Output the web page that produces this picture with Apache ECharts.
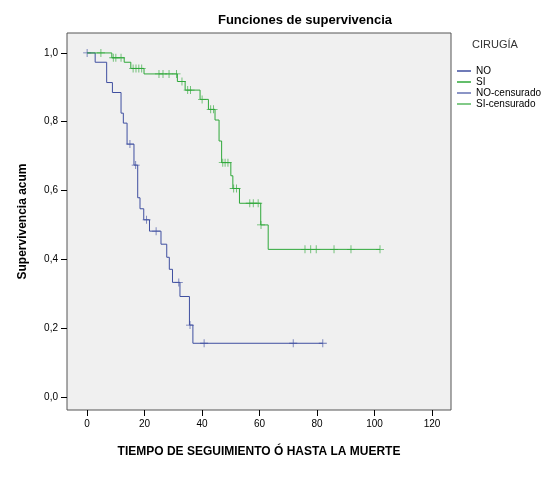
<!DOCTYPE html><html><head><meta charset="utf-8"><script src="https://cdn.jsdelivr.net/npm/echarts@6/dist/echarts.min.js"></script></head><body style="margin:0;background:#fff"><div id="c" style="width:548px;height:477px"></div><script>
const noSteps=[[0,1],[2.8,0.973],[6.8,0.914],[8.8,0.885],[11.8,0.825],[12.6,0.796],[13.9,0.735],[16.3,0.674],[17.6,0.579],[18.4,0.547],[19.7,0.515],[21.7,0.482],[25.7,0.444],[27.7,0.406],[28.6,0.371],[29.7,0.333],[32.3,0.292],[35.6,0.209],[36.8,0.156],[82,0.156]];
const noCens=[[0,1],[14.9,0.735],[16.9,0.674],[20.7,0.515],[24,0.482],[31.9,0.333],[35.8,0.209],[40.7,0.156],[71.7,0.156],[82,0.156]];
const siSteps=[[0,1],[8.6,0.986],[12.9,0.973],[15.2,0.955],[19.8,0.939],[31.4,0.917],[34.1,0.892],[39.3,0.865],[42.2,0.836],[44.5,0.805],[45.9,0.744],[46.8,0.681],[50,0.643],[50.7,0.606],[53,0.563],[60.4,0.5],[63,0.429],[101.9,0.429]];
const siCens=[[4.8,1],[9.1,0.986],[10,0.986],[11.8,0.986],[16,0.955],[17,0.955],[18,0.955],[19,0.955],[25,0.939],[26.4,0.939],[28.5,0.939],[31.1,0.939],[33,0.917],[35,0.892],[36,0.892],[40,0.865],[43,0.836],[44,0.836],[47.2,0.681],[48,0.681],[49,0.681],[51,0.606],[52,0.606],[56.6,0.563],[57.8,0.563],[59.5,0.563],[60.5,0.5],[75.8,0.429],[77.8,0.429],[79.7,0.429],[85.9,0.429],[91.8,0.429],[101.9,0.429]];
const xTicks=[0,20,40,60,80,100,120];
const yTicks=[0,0.2,0.4,0.6,0.8,1.0];
const blue='#3f4fa0',green='#2fa83a';
const plus='path://M0,4.5h10v1h-10z M4.5,0h1v10h-1z';
const lineIcon='path://M0,0h14v1.5h-14z';
const ch=echarts.init(document.getElementById('c'));
ch.setOption({
 animation:false,
 title:{text:'Funciones de supervivencia',left:300,top:9,textAlign:'center',textStyle:{fontFamily:'Liberation Sans',fontSize:13,fontWeight:'bold',color:'#000'}},
 graphic:[{type:'text',left:472,top:39,style:{text:'CIRUGÍA',font:'11px Liberation Sans',fill:'#333'}}],
 legend:{orient:'vertical',left:452,top:61,itemGap:1,itemWidth:14,itemHeight:8,textStyle:{fontFamily:'Liberation Sans',fontSize:10,color:'#000'},
  data:[{name:'NO',icon:lineIcon,itemStyle:{color:blue}},{name:'SI',icon:lineIcon,itemStyle:{color:green}},{name:'NO-censurado',icon:lineIcon,itemStyle:{color:blue}},{name:'SI-censurado',icon:lineIcon,itemStyle:{color:green}}]},
 grid:{left:67,right:97,top:33,bottom:67,backgroundColor:'#f0f0f0',show:true,borderColor:'#555',borderWidth:1},
 xAxis:{type:'value',min:-7,max:126.6,name:'TIEMPO DE SEGUIMIENTO Ó HASTA LA MUERTE',nameLocation:'middle',nameGap:36,
  nameTextStyle:{fontFamily:'Liberation Sans',fontSize:12,fontWeight:'bold',color:'#000'},
  splitLine:{show:false},axisLine:{show:false,onZero:false},
  axisTick:{show:true,customValues:xTicks,length:6,lineStyle:{color:'#000'}},
  axisLabel:{customValues:xTicks,margin:9,fontFamily:'Liberation Sans',fontSize:10,color:'#000'}},
 yAxis:{type:'value',min:-0.038,max:1.058,name:'Supervivencia acum',nameLocation:'middle',nameGap:38,
  nameTextStyle:{fontFamily:'Liberation Sans',fontSize:12,fontWeight:'bold',color:'#000'},
  splitLine:{show:false},axisLine:{show:false,onZero:false},
  axisTick:{show:true,customValues:yTicks,length:6,lineStyle:{color:'#000'}},
  axisLabel:{customValues:yTicks,margin:9,formatter:v=>v.toFixed(1).replace('.',','),fontFamily:'Liberation Sans',fontSize:10,color:'#000'}},
 series:[
  {name:'NO',type:'line',step:'end',data:noSteps,showSymbol:false,lineStyle:{color:blue,width:1},itemStyle:{color:blue}},
  {name:'SI',type:'line',step:'end',data:siSteps,showSymbol:false,lineStyle:{color:green,width:1},itemStyle:{color:green}},
  {name:'NO-censurado',type:'scatter',data:noCens,symbol:plus,symbolSize:8,itemStyle:{color:blue}},
  {name:'SI-censurado',type:'scatter',data:siCens,symbol:plus,symbolSize:8,itemStyle:{color:green}}
 ]});
</script></body></html>
